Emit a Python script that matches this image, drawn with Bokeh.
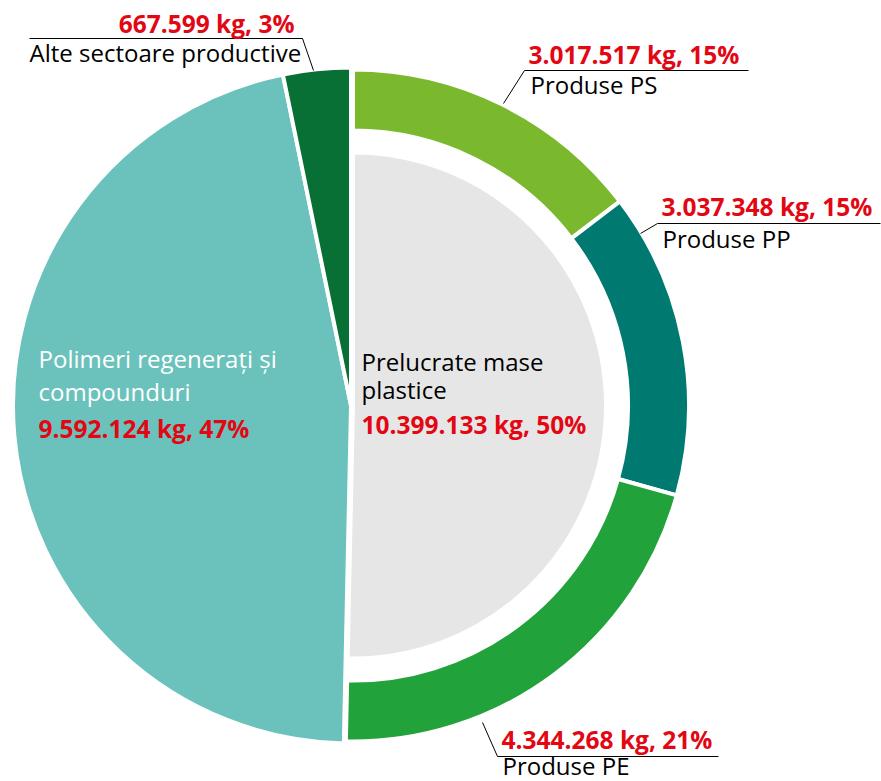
import math
from bokeh.plotting import figure
from bokeh.models import Range1d
from bokeh.core.properties import value
from bokeh.embed import file_html
from bokeh.resources import INLINE

# ---- data ----
categories = ["Produse PS", "Produse PP", "Produse PE",
              "Polimeri regenerați și compounduri", "Alte sectoare productive"]
values_kg = [3017517, 3037348, 4344268, 9592124, 667599]
value_labels = ["3.017.517 kg, 15%", "3.037.348 kg, 15%", "4.344.268 kg, 21%",
                "9.592.124 kg, 47%", "667.599 kg, 3%"]
group_name = ["Prelucrate mase", "plastice"]
group_value_label = "10.399.133 kg, 50%"
colors = ["#7AB92E", "#007A70", "#22A23A", "#6BC2BC", "#087034"]
grey = "#E6E6E6"
red = "#E30613"

W, H = 881, 781
FONT = value("Open Sans")
TEXT_SHIFT = 9  # renderer places alphabetic baseline lower; compensate

def X(sx):
    return sx

def Y(sy):
    return H - sy

p = figure(width=W, height=H, output_backend="svg", toolbar_location=None,
           x_range=Range1d(0, W), y_range=Range1d(0, H), min_border=0,
           outline_line_color=None)
p.axis.visible = False
p.grid.visible = False
p.background_fill_color = "white"
p.border_fill_color = "white"

total = sum(values_kg)
cum = [0.0]
for v in values_kg:
    cum.append(cum[-1] + v / total)
starts = [math.pi / 2 - 2 * math.pi * cum[i] for i in range(len(values_kg))]
ends = [math.pi / 2 - 2 * math.pi * cum[i + 1] for i in range(len(values_kg))]

R = 338
cxl, cxr, cy = X(350.5), X(352.5), Y(405)

# left group (Polimeri, Alte) as full wedges
for i in (3, 4):
    p.wedge(x=cxl, y=cy, radius=R, start_angle=starts[i], end_angle=ends[i],
            direction="clock", fill_color=colors[i], line_color="white", line_width=4)

# right group: grey inner wedge + ring segments
p.wedge(x=cxr, y=cy, radius=253, start_angle=starts[0], end_angle=ends[2],
        direction="clock", fill_color=grey, line_color="white", line_width=4)
for i in (0, 1, 2):
    p.annular_wedge(x=cxr, y=cy, inner_radius=275, outer_radius=R - 2,
                    start_angle=starts[i], end_angle=ends[i], direction="clock",
                    fill_color=colors[i], line_color="white", line_width=4)

# leader lines
leaders = [
    ([29, 302, 313], [38, 38, 70]),
    ([748, 524, 503], [70, 70, 103]),
    ([880, 657, 640], [223, 223, 233]),
    ([718, 497, 482], [756, 756, 722]),
]
for xs, ys in leaders:
    p.line(x=[X(v) for v in xs], y=[Y(v) for v in ys], line_color="black", line_width=1)

def txt(sx, sy, s, color, bold=False, align="left", size="24px"):
    p.text(x=[X(sx)], y=[Y(sy - TEXT_SHIFT)], text=[s], text_color=color, text_font=FONT,
           text_font_size=size, text_font_style="bold" if bold else "normal",
           text_align=align, text_baseline="alphabetic")

BS = "24.5px"
# outer labels
txt(294, 32, value_labels[4], red, True, "right", BS)
txt(29, 61, categories[4], "black")
txt(528, 63, value_labels[0], red, True, "left", BS)
txt(530, 93, categories[0], "black")
txt(661, 215, value_labels[1], red, True, "left", BS)
txt(662, 247, categories[1], "black")
txt(501, 748, value_labels[2], red, True, "left", BS)
txt(502, 774, categories[2], "black")

# inner labels
txt(361, 370, group_name[0], "black")
txt(361, 398, group_name[1], "black")
txt(361, 433, group_value_label, red, True, "left", BS)
txt(38, 367, "Polimeri regenerați și", "white")
txt(38, 400, "compounduri", "white")
txt(38, 437, value_labels[3], red, True, "left", BS)

open("out.html", "w").write(file_html(p, INLINE))
